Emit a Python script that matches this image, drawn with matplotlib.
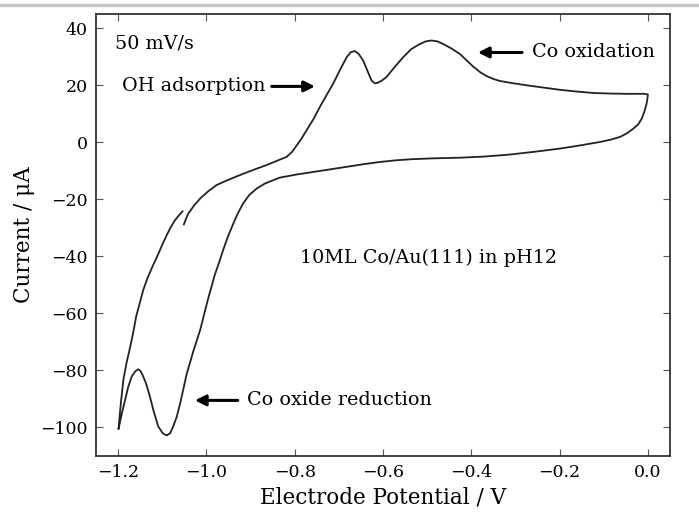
import numpy as np
import matplotlib
matplotlib.use("Agg")
import matplotlib.pyplot as plt
from matplotlib.lines import Line2D

# cyclic voltammogram (V, uA), in scan order
potential = [-1.051, -1.046, -1.041, -1.028, -1.014, -0.996, -0.977, -0.951, -0.924,
             -0.894, -0.864, -0.840, -0.818, -0.805, -0.796, -0.785, -0.773, -0.758,
             -0.743, -0.728, -0.713, -0.697, -0.682, -0.673, -0.664, -0.655, -0.645,
             -0.635, -0.626, -0.619, -0.613, -0.603, -0.592, -0.573, -0.554, -0.535,
             -0.516, -0.503, -0.490, -0.477, -0.464, -0.445, -0.426, -0.411, -0.396,
             -0.380, -0.365, -0.350, -0.335, -0.305, -0.275, -0.237, -0.199, -0.161,
             -0.124, -0.086, -0.048, -0.010, 0.000, -0.001, -0.003, -0.008, -0.014,
             -0.022, -0.033, -0.047, -0.063, -0.085, -0.109, -0.154, -0.199, -0.256,
             -0.313, -0.370, -0.426, -0.480, -0.532, -0.570, -0.607, -0.645, -0.682,
             -0.720, -0.758, -0.796, -0.834, -0.849, -0.868, -0.886, -0.903, -0.917,
             -0.929, -0.939, -0.951, -0.962, -0.972, -0.981, -0.998, -1.014, -1.030,
             -1.045, -1.052, -1.059, -1.067, -1.075, -1.082, -1.090, -1.099, -1.109,
             -1.119, -1.128, -1.136, -1.143, -1.149, -1.154, -1.161, -1.169, -1.177,
             -1.184, -1.192, -1.199, -1.194, -1.188, -1.181, -1.174, -1.166, -1.159,
             -1.151, -1.143, -1.133, -1.121, -1.109, -1.099, -1.089, -1.080, -1.071,
             -1.062, -1.054]
current = [-28.8, -26.8, -25.0, -22.2, -19.7, -17.2, -15.0, -13.2, -11.5,
           -9.7, -8.0, -6.5, -5.1, -3.2, -1.2, 1.2, 4.2, 8.0,
           12.4, 16.5, 20.5, 25.5, 29.9, 31.6, 32.0, 31.0, 28.7,
           25.0, 21.7, 20.7, 20.8, 21.6, 22.9, 26.5, 29.9, 32.8,
           34.5, 35.4, 35.7, 35.4, 34.5, 32.9, 31.0, 28.8, 26.6,
           24.6, 23.2, 22.2, 21.5, 20.7, 20.0, 19.2, 18.4, 17.8,
           17.3, 17.1, 17.0, 17.0, 16.8, 15.5, 13.5, 10.8, 8.3,
           6.3, 4.8, 3.2, 1.9, 0.9, 0.1, -1.1, -2.2, -3.3,
           -4.3, -5.0, -5.4, -5.6, -5.9, -6.3, -6.9, -7.7, -8.6,
           -9.5, -10.4, -11.3, -12.4, -13.3, -14.5, -16.2, -18.5, -21.5,
           -25.0, -28.5, -33.0, -37.8, -42.5, -46.5, -56.0, -65.8, -73.5,
           -81.5, -86.5, -91.3, -96.2, -99.6, -102.0, -102.8, -102.0, -99.6,
           -94.5, -89.1, -84.8, -82.1, -80.2, -79.6, -80.3, -82.1, -85.8,
           -90.3, -95.5, -100.6, -92.0, -83.3, -77.5, -72.8, -67.0, -61.1,
           -56.5, -51.8, -47.5, -43.2, -39.2, -35.6, -32.3, -29.6, -27.3,
           -25.6, -24.2]

xticks = [-1.2, -1.0, -0.8, -0.6, -0.4, -0.2, 0.0]
yticks = [-100, -80, -60, -40, -20, 0, 20, 40]

plt.rcParams['font.family'] = 'DejaVu Serif'

fig = plt.figure(figsize=(6.99, 5.12), dpi=100)
ax = fig.add_axes([0.1373, 0.1094, 0.8212, 0.8633])

ax.plot(potential, current, color='#222222', lw=1.3)

ax.set_xlim(-1.25, 0.05)
ax.set_ylim(-110, 45)
ax.set_xticks(xticks)
ax.set_yticks(yticks)
ax.set_xticklabels(['\u2212%.1f' % abs(v) if v < 0 else '%.1f' % v for v in xticks])
ax.set_yticklabels(['\u2212%d' % abs(v) if v < 0 else '%d' % v for v in yticks])
ax.tick_params(direction='in', top=True, right=True, length=5, width=0.8,
               labelsize=12.5, color='#555555', pad=6)
for s in ax.spines.values():
    s.set_color('#333333')
    s.set_linewidth(1.3)

ax.set_xlabel('Electrode Potential / V', fontsize=15.5, labelpad=4)
ax.set_ylabel('Current / \u03bcA', fontsize=15.5, labelpad=4)

arrow = dict(arrowstyle='-|>', color='k', lw=2.2, mutation_scale=16,
             shrinkA=0, shrinkB=0)
fs = 13.8
ax.text(-1.207, 34.7, '50 mV/s', fontsize=fs, va='center', ha='left')
ax.text(-0.867, 19.6, 'OH adsorption', fontsize=fs, va='center', ha='right')
ax.annotate('', xy=(-0.754, 19.6), xytext=(-0.852, 19.6), arrowprops=arrow)
ax.text(-0.262, 31.5, 'Co oxidation', fontsize=fs, va='center', ha='left')
ax.annotate('', xy=(-0.385, 31.5), xytext=(-0.285, 31.5), arrowprops=arrow)
ax.text(-0.908, -90.5, 'Co oxide reduction', fontsize=fs, va='center', ha='left')
ax.annotate('', xy=(-1.026, -90.5), xytext=(-0.929, -90.5), arrowprops=arrow)
ax.text(-0.496, -40.6, '10ML Co/Au(111) in pH12', fontsize=fs, va='center', ha='center')

# thin grey rule along the top of the picture
fig.add_artist(Line2D([0, 1], [1 - 4.5 / 512] * 2, color='#c4c4c4', lw=2.5,
                      transform=fig.transFigure))

fig.savefig('out.png', dpi=100)
